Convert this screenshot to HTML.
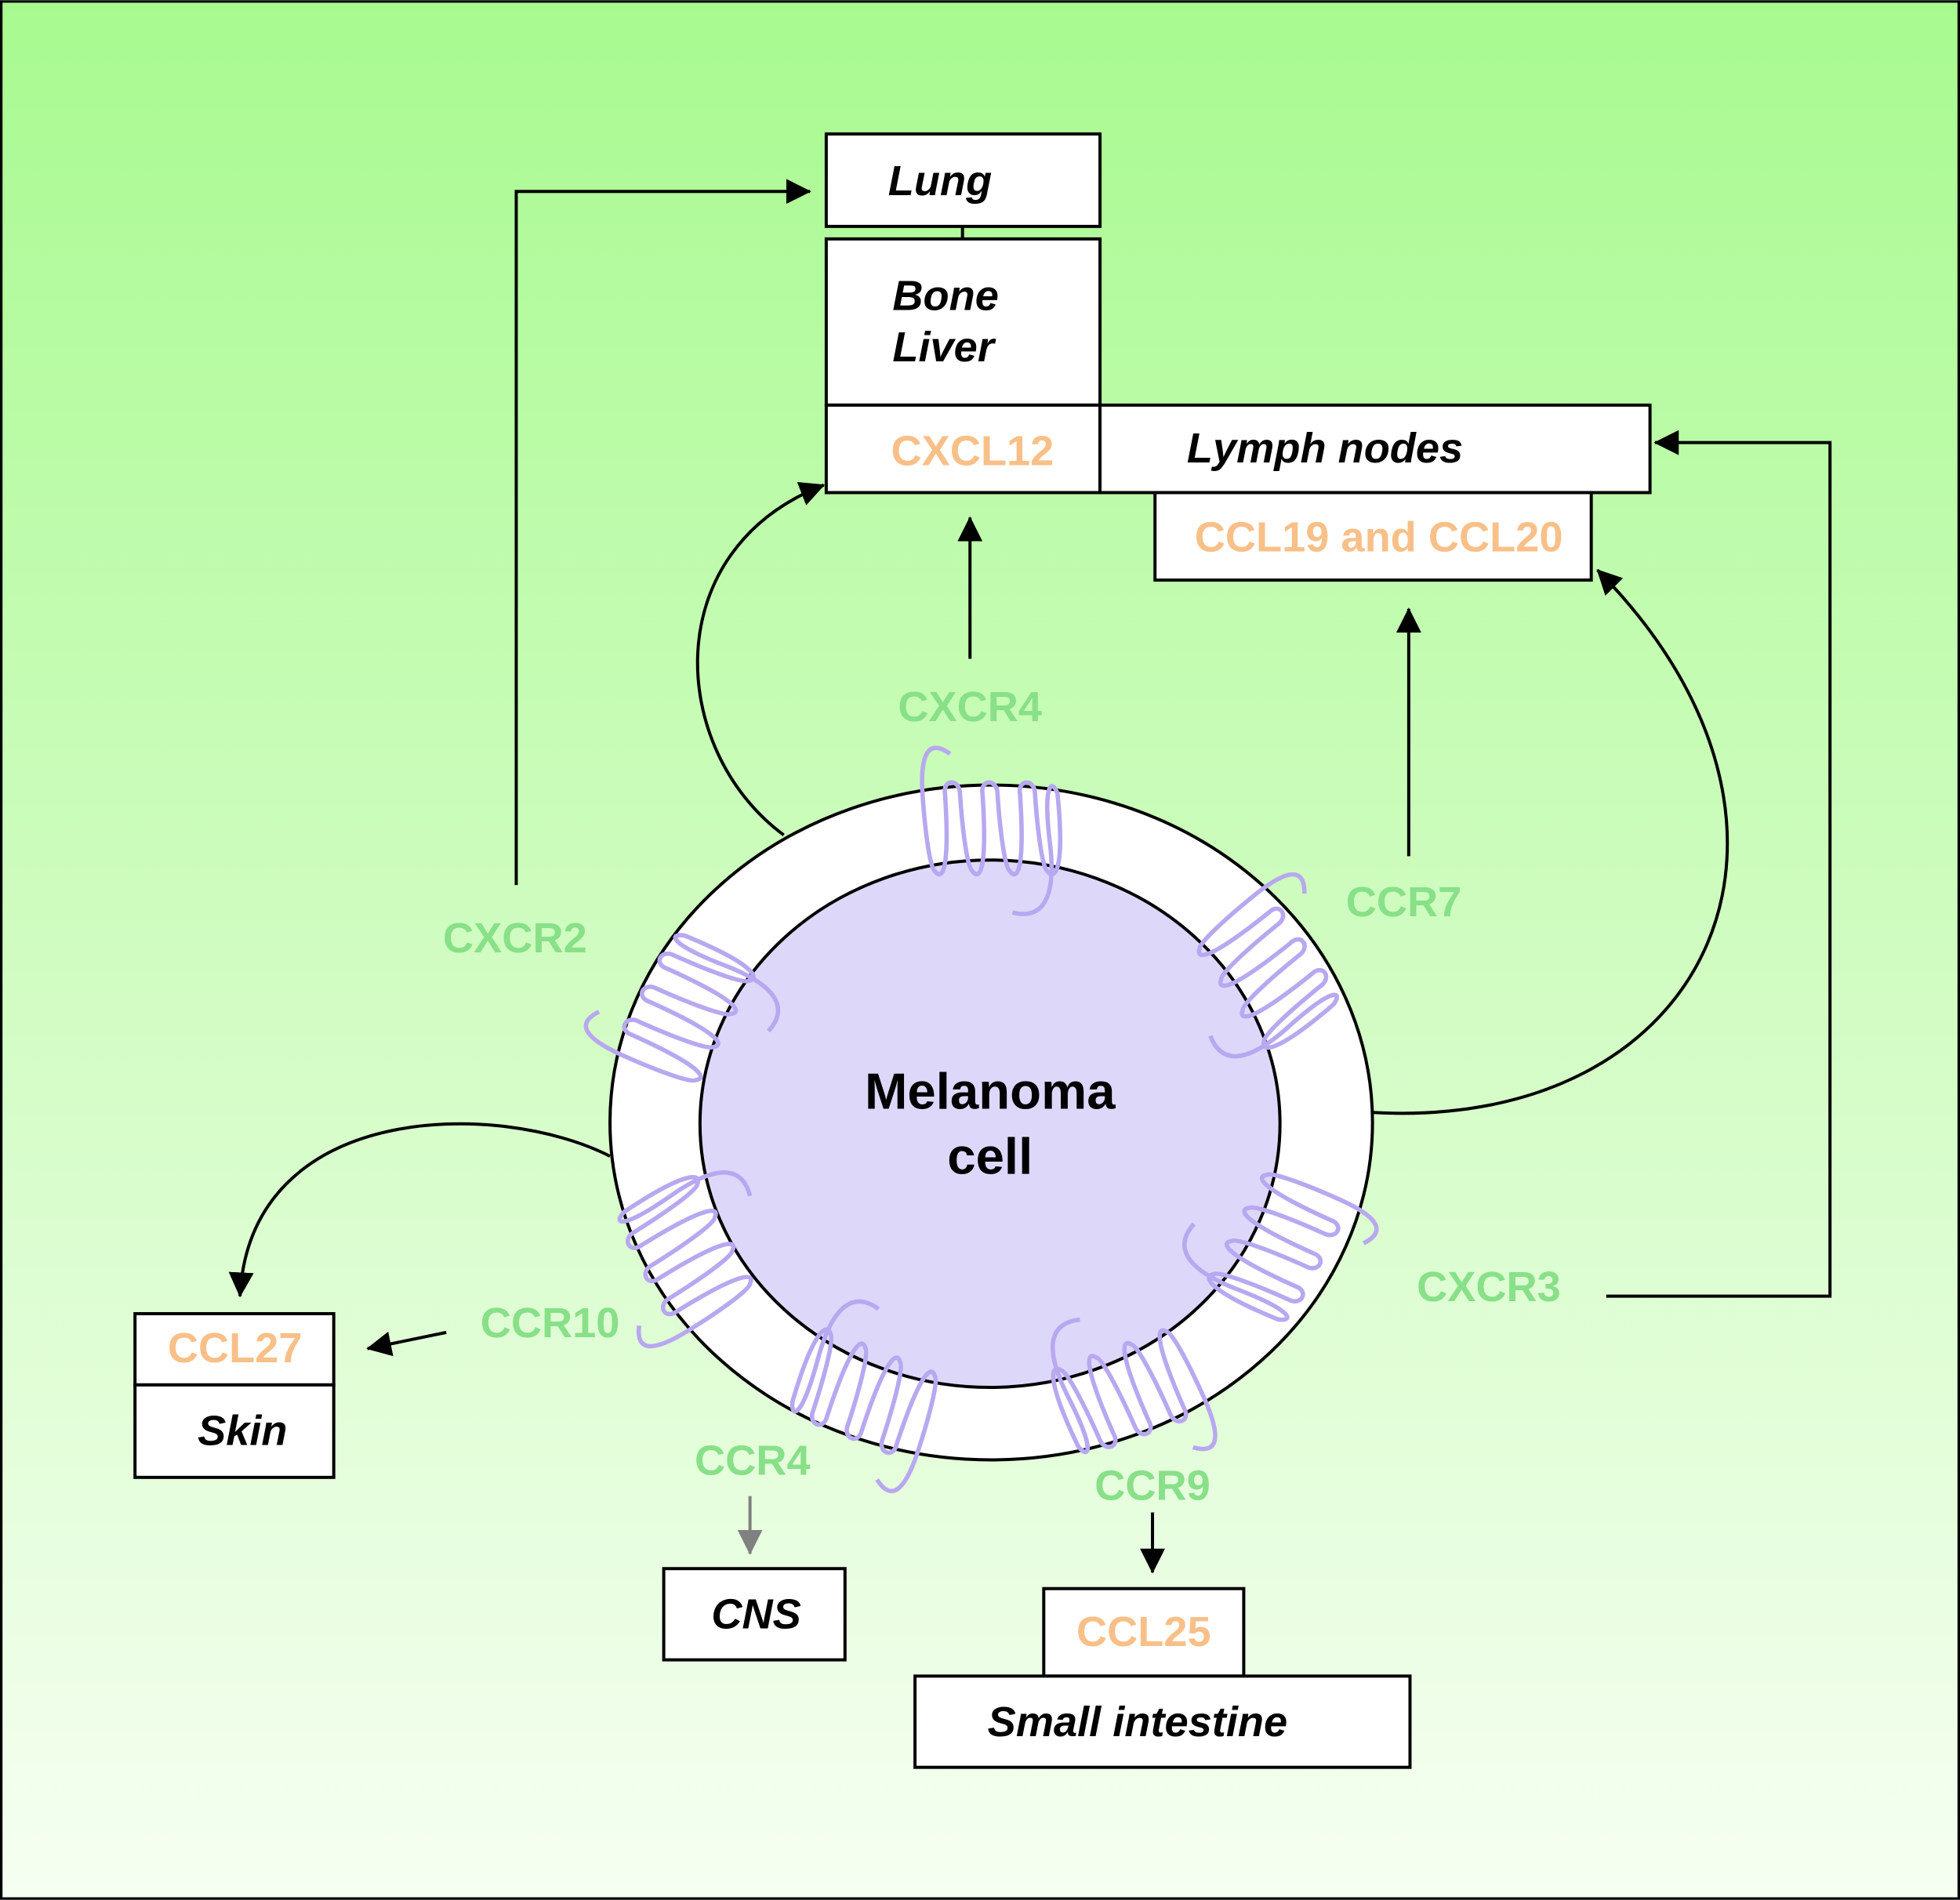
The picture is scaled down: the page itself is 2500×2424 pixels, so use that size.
<!DOCTYPE html>
<html><head><style>html,body{margin:0;padding:0;}svg{display:block;}</style></head>
<body>
<svg width="2500" height="2424" viewBox="0 0 1568 1520" xmlns="http://www.w3.org/2000/svg" font-family="Liberation Sans, sans-serif" font-weight="bold">
<defs>
<linearGradient id="bg" x1="0" y1="0" x2="0" y2="1">
<stop offset="0" stop-color="#a8fa90"/><stop offset="0.45" stop-color="#ccfcbc"/><stop offset="1" stop-color="#f6fff2"/>
</linearGradient>
<marker id="ahb" markerWidth="20" markerHeight="20" refX="19" refY="10" orient="auto" markerUnits="userSpaceOnUse" viewBox="0 0 20 20">
<path d="M0,0 L20,10 L0,20 z" fill="#000"/></marker>
<marker id="ahg" markerWidth="20" markerHeight="20" refX="19" refY="10" orient="auto" markerUnits="userSpaceOnUse" viewBox="0 0 20 20">
<path d="M0,0 L20,10 L0,20 z" fill="#808080"/></marker>
<path id="rec" fill="none" stroke="#b8a8f0" stroke-width="3.5" d="M-30,-62 Q-55,-80 -52,-30 C-50,0 -46,30 -42,32 C-36,40 -30,30 -34,-30 C-36,-42 -22,-42 -22,-30 C-20,0 -16,30 -12,32 C-6,40 0,30 -4,-30 C-6,-42 8,-42 8,-30 C10,0 14,30 18,32 C24,40 30,30 26,-30 C24,-42 38,-42 38,-30 C40,0 44,30 48,32 C54,40 62,30 56,-30 C52,-42 44,-40 50,10 C56,60 40,70 20,65"/>
</defs>
<rect x="1" y="1" width="1566" height="1518" fill="url(#bg)" stroke="#000" stroke-width="2"/>

<ellipse cx="793" cy="898" rx="305" ry="270" fill="#fff" stroke="#000" stroke-width="2.5"/>
<ellipse cx="792" cy="899" rx="232" ry="211" fill="#ddd8fa" stroke="#000" stroke-width="2.5"/>
<g font-size="41" text-anchor="middle" fill="#000">
<text x="792" y="887">Melanoma</text><text x="792" y="939">cell</text></g>

<use href="#rec" transform="translate(790,665)"/>
<use href="#rec" transform="translate(1010,775) rotate(55)"/>
<use href="#rec" transform="translate(548,812) rotate(-62)"/>
<use href="#rec" transform="translate(1022,992) rotate(118)"/>
<use href="#rec" transform="translate(552,1005) rotate(-118)"/>
<use href="#rec" transform="translate(697,1115) rotate(-158)"/>
<use href="#rec" transform="translate(905,1110) rotate(160)"/>

<g fill="#fff" stroke="#000" stroke-width="2.5">
<rect x="661" y="107" width="219" height="74"/>
<line x1="770" y1="181" x2="770" y2="191"/>
<rect x="661" y="191" width="219" height="133"/>
<rect x="661" y="324" width="219" height="70"/>
<rect x="880" y="324" width="440" height="70"/>
<rect x="924" y="394" width="349" height="70"/>
<rect x="108" y="1051" width="159" height="57"/>
<rect x="108" y="1108" width="159" height="74"/>
<rect x="531" y="1255" width="145" height="73"/>
<rect x="835" y="1271" width="160" height="70"/>
<rect x="732" y="1341" width="396" height="73"/>
</g>
<g font-size="34" font-style="italic" fill="#000">
<text x="752" y="156" text-anchor="middle">Lung</text>
<text x="714" y="248">Bone</text>
<text x="714" y="289">Liver</text>
<text x="1060" y="370" text-anchor="middle">Lymph nodes</text>
<text x="194" y="1156" text-anchor="middle">Skin</text>
<text x="605" y="1303" text-anchor="middle">CNS</text>
<text x="910" y="1389" text-anchor="middle">Small intestine</text>
</g>
<g font-size="34" fill="#f8c088" text-anchor="middle">
<text x="778" y="372">CXCL12</text>
<text x="1103" y="441">CCL19 and CCL20</text>
<text x="188" y="1090">CCL27</text>
<text x="915" y="1317">CCL25</text>
</g>
<g font-size="34" fill="#88e088" text-anchor="middle">
<text x="776" y="577">CXCR4</text>
<text x="1123" y="733">CCR7</text>
<text x="412" y="762">CXCR2</text>
<text x="440" y="1070">CCR10</text>
<text x="1191" y="1041">CXCR3</text>
<text x="602" y="1180">CCR4</text>
<text x="922" y="1200">CCR9</text>
</g>

<g fill="none" stroke="#000" stroke-width="2.5">
<polyline points="413,708 413,153 648,153" marker-end="url(#ahb)"/>
<line x1="776" y1="527" x2="776" y2="414" marker-end="url(#ahb)"/>
<line x1="1127" y1="685" x2="1127" y2="487" marker-end="url(#ahb)"/>
<polyline points="1285,1037 1464,1037 1464,354 1324,354" marker-end="url(#ahb)"/>
<path d="M627,668 C535,600 525,440 659,388" marker-end="url(#ahb)"/>
<path d="M1098,890 C1370,905 1480,660 1278,456" marker-end="url(#ahb)"/>
<path d="M488,925 C400,880 200,880 192,1037" marker-end="url(#ahb)"/>
<line x1="357" y1="1066" x2="294" y2="1079" marker-end="url(#ahb)"/>
<line x1="922" y1="1210" x2="922" y2="1258" marker-end="url(#ahb)"/>
<line x1="600" y1="1197" x2="600" y2="1243" stroke="#808080" marker-end="url(#ahg)"/>
</g>
</svg>
</body></html>
